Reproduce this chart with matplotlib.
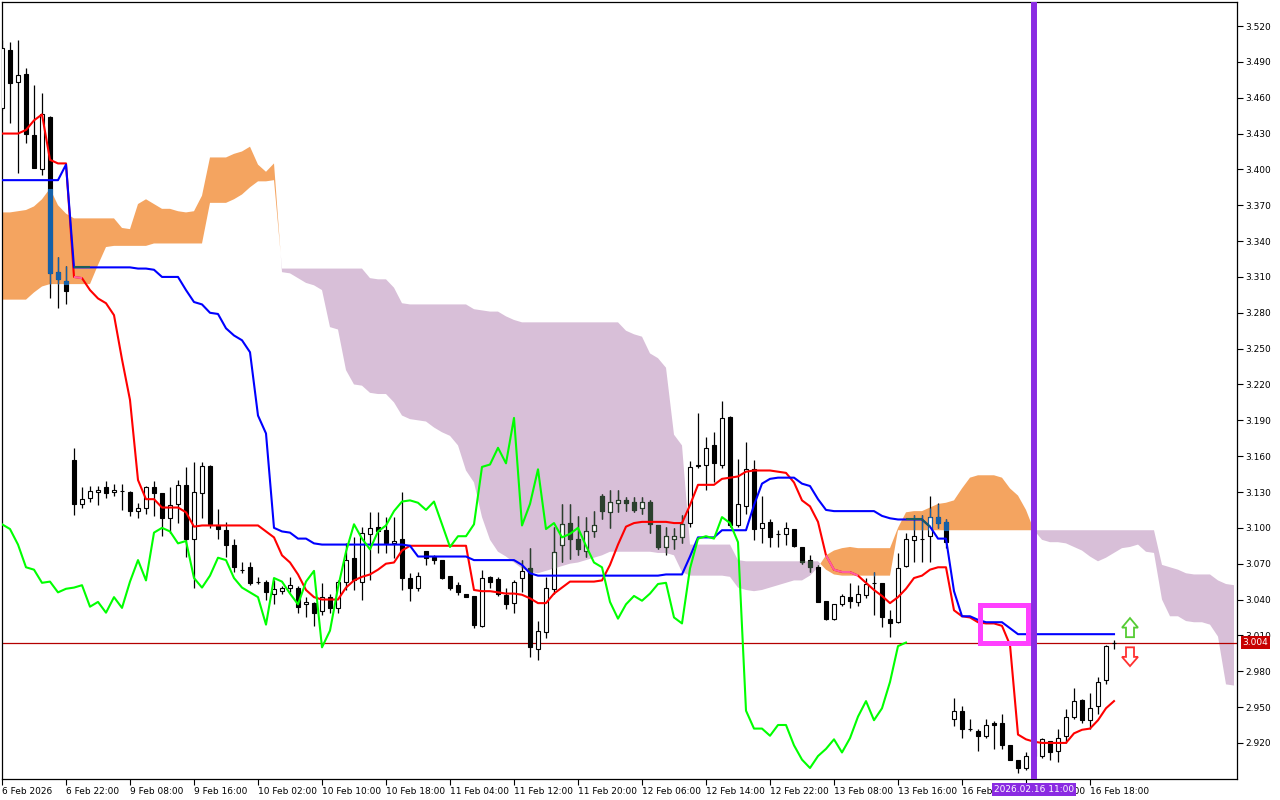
import matplotlib
matplotlib.use("Agg")
import matplotlib.pyplot as plt
from matplotlib.patches import Rectangle, Polygon
import numpy as np

# hourly candles, one bar per x step (6 Feb 2026 .. 16 Feb 2026)
opens = [3.451, 3.500, 3.473, 3.480, 3.429, 3.400, 3.444, 3.314, 3.307, 3.157,
         3.120, 3.125, 3.130, 3.134, 3.130, 3.131, 3.130, 3.114, 3.117, 3.134,
         3.129, 3.108, 3.120, 3.136, 3.091, 3.129, 3.152, 3.102, 3.098, 3.086,
         3.065, 3.067, 3.055, 3.055, 3.045, 3.047, 3.050, 3.050, 3.036, 3.037,
         3.030, 3.042, 3.033, 3.055, 3.075, 3.055, 3.095, 3.101, 3.098, 3.087,
         3.091, 3.058, 3.050, 3.081, 3.076, 3.073, 3.060, 3.052, 3.045, 3.043,
         3.018, 3.059, 3.057, 3.044, 3.037, 3.058, 3.066, 2.999, 3.013, 3.049,
         3.086, 3.104, 3.091, 3.081, 3.097, 3.127, 3.113, 3.121, 3.123, 3.122,
         3.117, 3.122, 3.102, 3.084, 3.091, 3.092, 3.104, 3.152, 3.153, 3.169,
         3.153, 3.193, 3.102, 3.118, 3.149, 3.100, 3.105, 3.095, 3.095, 3.099,
         3.084, 3.073, 3.067, 3.039, 3.024, 3.036, 3.042, 3.038, 3.044, 3.054,
         3.054, 3.024, 3.021, 3.068, 3.090, 3.091, 3.093, 3.109, 3.105, 2.940,
         2.947, 2.932, 2.930, 2.926, 2.937, 2.937, 2.918, 2.906, 2.899, 2.909,
         2.909, 2.922, 2.913, 2.926, 2.942, 2.956, 2.939, 2.951, 2.973, 3.004]
highs = [3.508, 3.507, 3.508, 3.485, 3.471, 3.464, 3.445, 3.327, 3.319, 3.167,
         3.134, 3.135, 3.135, 3.139, 3.137, 3.137, 3.131, 3.121, 3.135, 3.139,
         3.129, 3.134, 3.140, 3.151, 3.155, 3.155, 3.153, 3.116, 3.105, 3.091,
         3.071, 3.071, 3.059, 3.056, 3.056, 3.051, 3.059, 3.051, 3.042, 3.038,
         3.054, 3.045, 3.056, 3.087, 3.092, 3.101, 3.113, 3.113, 3.109, 3.109,
         3.130, 3.062, 3.063, 3.081, 3.077, 3.073, 3.060, 3.055, 3.045, 3.043,
         3.065, 3.060, 3.059, 3.050, 3.056, 3.073, 3.083, 3.022, 3.059, 3.101,
         3.120, 3.120, 3.110, 3.109, 3.114, 3.128, 3.132, 3.132, 3.126, 3.126,
         3.126, 3.123, 3.102, 3.101, 3.100, 3.111, 3.156, 3.196, 3.176, 3.180,
         3.206, 3.194, 3.158, 3.172, 3.157, 3.127, 3.107, 3.098, 3.105, 3.099,
         3.084, 3.077, 3.069, 3.039, 3.036, 3.045, 3.054, 3.052, 3.058, 3.063,
         3.054, 3.031, 3.079, 3.096, 3.111, 3.111, 3.127, 3.121, 3.107, 2.958,
         2.951, 2.940, 2.932, 2.940, 2.938, 2.944, 2.918, 2.906, 2.912, 2.925,
         2.924, 2.922, 2.932, 2.948, 2.966, 2.957, 2.962, 2.975, 3.002, 3.006]
lows = [3.450, 3.439, 3.397, 3.422, 3.401, 3.395, 3.292, 3.284, 3.287, 3.111,
        3.117, 3.122, 3.119, 3.125, 3.127, 3.115, 3.110, 3.108, 3.112, 3.110,
        3.093, 3.096, 3.104, 3.076, 3.050, 3.108, 3.100, 3.091, 3.076, 3.063,
        3.062, 3.052, 3.053, 3.040, 3.036, 3.045, 3.046, 3.029, 3.025, 3.018,
        3.027, 3.029, 3.029, 3.048, 3.048, 3.040, 3.056, 3.079, 3.079, 3.075,
        3.048, 3.039, 3.047, 3.069, 3.070, 3.057, 3.048, 3.044, 3.042, 3.016,
        3.017, 3.050, 3.043, 3.032, 3.029, 3.046, 2.992, 2.989, 3.008, 3.045,
        3.071, 3.074, 3.077, 3.076, 3.092, 3.107, 3.100, 3.113, 3.114, 3.113,
        3.112, 3.096, 3.082, 3.077, 3.082, 3.087, 3.101, 3.150, 3.132, 3.138,
        3.150, 3.101, 3.101, 3.112, 3.090, 3.087, 3.084, 3.084, 3.086, 3.084,
        3.070, 3.063, 3.038, 3.023, 3.023, 3.035, 3.033, 3.035, 3.041, 3.027,
        3.017, 3.009, 3.020, 3.067, 3.071, 3.071, 3.071, 3.100, 3.083, 2.934,
        2.924, 2.930, 2.913, 2.924, 2.915, 2.915, 2.906, 2.895, 2.897, 2.905,
        2.907, 2.906, 2.904, 2.920, 2.940, 2.937, 2.932, 2.944, 2.969, 2.999]
closes = [3.502, 3.472, 3.479, 3.430, 3.401, 3.446, 3.313, 3.308, 3.298, 3.120,
          3.124, 3.131, 3.132, 3.129, 3.132, 3.131, 3.114, 3.117, 3.134, 3.129,
          3.108, 3.119, 3.136, 3.091, 3.130, 3.152, 3.103, 3.099, 3.086, 3.067,
          3.065, 3.054, 3.055, 3.046, 3.049, 3.050, 3.052, 3.034, 3.038, 3.029,
          3.042, 3.033, 3.055, 3.073, 3.056, 3.096, 3.100, 3.097, 3.087, 3.089,
          3.058, 3.050, 3.060, 3.075, 3.073, 3.058, 3.050, 3.046, 3.042, 3.019,
          3.058, 3.055, 3.045, 3.036, 3.055, 3.064, 3.000, 3.014, 3.050, 3.080,
          3.103, 3.091, 3.082, 3.097, 3.102, 3.114, 3.122, 3.123, 3.121, 3.115,
          3.122, 3.103, 3.084, 3.093, 3.093, 3.103, 3.151, 3.153, 3.167, 3.154,
          3.192, 3.102, 3.120, 3.149, 3.099, 3.104, 3.092, 3.095, 3.100, 3.085,
          3.071, 3.067, 3.038, 3.024, 3.036, 3.043, 3.039, 3.045, 3.053, 3.054,
          3.025, 3.020, 3.066, 3.091, 3.093, 3.091, 3.109, 3.104, 3.088, 2.947,
          2.932, 2.932, 2.926, 2.935, 2.935, 2.918, 2.906, 2.899, 2.909, 2.915,
          2.923, 2.912, 2.924, 2.942, 2.955, 2.939, 2.949, 2.971, 3.001, 3.004]

# ichimoku lines
tenkan = [3.430, 3.430, 3.430, 3.433, 3.441, 3.446, 3.408, 3.405, 3.405, 3.310,
          3.309, 3.299, 3.292, 3.288, 3.278, 3.241, 3.207, 3.140, 3.124, 3.124,
          3.117, 3.117, 3.117, 3.113, 3.101, 3.102, 3.102, 3.102, 3.102, 3.102,
          3.102, 3.102, 3.102, 3.097, 3.092, 3.077, 3.071, 3.061, 3.048, 3.042,
          3.040, 3.040, 3.040, 3.050, 3.056, 3.059, 3.061, 3.065, 3.070, 3.071,
          3.081, 3.085, 3.085, 3.085, 3.085, 3.085, 3.085, 3.085, 3.085, 3.048,
          3.047, 3.047, 3.046, 3.045, 3.045, 3.044, 3.041, 3.037, 3.037, 3.045,
          3.050, 3.055, 3.055, 3.055, 3.055, 3.056, 3.069, 3.086, 3.101, 3.104,
          3.105, 3.105, 3.105, 3.105, 3.104, 3.104, 3.119, 3.136, 3.136, 3.136,
          3.141, 3.142, 3.143, 3.147, 3.148, 3.148, 3.148, 3.147, 3.146, 3.138,
          3.123, 3.118, 3.105, 3.077, 3.065, 3.063, 3.063, 3.060, 3.054, 3.048,
          3.043, 3.037, 3.042, 3.049, 3.058, 3.060, 3.065, 3.067, 3.067, 3.031,
          3.026, 3.025, 3.021, 3.020, 3.020, 3.018, 3.002, 2.927, 2.923, 2.921,
          2.920, 2.920, 2.920, 2.920, 2.928, 2.931, 2.932, 2.939, 2.949, 2.955]
kijun = [3.391, 3.391, 3.391, 3.391, 3.391, 3.391, 3.391, 3.391, 3.404, 3.318,
         3.318, 3.318, 3.318, 3.318, 3.318, 3.318, 3.318, 3.317, 3.317, 3.316,
         3.310, 3.310, 3.310, 3.299, 3.289, 3.287, 3.280, 3.279, 3.267, 3.261,
         3.257, 3.247, 3.194, 3.179, 3.100, 3.097, 3.096, 3.091, 3.091, 3.087,
         3.086, 3.086, 3.086, 3.086, 3.086, 3.086, 3.086, 3.086, 3.086, 3.086,
         3.086, 3.085, 3.076, 3.076, 3.076, 3.076, 3.076, 3.076, 3.076, 3.073,
         3.073, 3.073, 3.073, 3.073, 3.073, 3.069, 3.062, 3.060, 3.060, 3.060,
         3.060, 3.060, 3.060, 3.060, 3.060, 3.060, 3.060, 3.060, 3.060, 3.060,
         3.060, 3.060, 3.060, 3.061, 3.061, 3.061, 3.076, 3.092, 3.092, 3.092,
         3.098, 3.098, 3.098, 3.098, 3.119, 3.137, 3.141, 3.142, 3.142, 3.142,
         3.137, 3.135, 3.124, 3.115, 3.114, 3.114, 3.114, 3.114, 3.114, 3.114,
         3.110, 3.108, 3.107, 3.107, 3.107, 3.107, 3.101, 3.091, 3.091, 3.047,
         3.026, 3.026, 3.023, 3.021, 3.021, 3.021, 3.016, 3.011, 3.011, 3.011,
         3.011, 3.011, 3.011, 3.011, 3.011, 3.011, 3.011, 3.011, 3.011, 3.011]
span_a = [3.364, 3.364, 3.365, 3.366, 3.369, 3.375, 3.384, 3.370, 3.363, 3.359,
          3.359, 3.359, 3.359, 3.359, 3.359, 3.351, 3.350, 3.371, 3.375, 3.371,
          3.367, 3.367, 3.365, 3.364, 3.365, 3.378, 3.410, 3.410, 3.410, 3.413,
          3.415, 3.419, 3.404, 3.398, 3.405, 3.314, 3.313, 3.309, 3.305, 3.303,
          3.299, 3.268, 3.266, 3.232, 3.220, 3.219, 3.213, 3.212, 3.212, 3.205,
          3.194, 3.191, 3.190, 3.189, 3.184, 3.180, 3.177, 3.169, 3.148, 3.138,
          3.109, 3.090, 3.080, 3.076, 3.071, 3.066, 3.063, 3.062, 3.064, 3.066,
          3.068, 3.070, 3.071, 3.073, 3.075, 3.077, 3.080, 3.080, 3.080, 3.080,
          3.080, 3.080, 3.079, 3.079, 3.077, 3.063, 3.060, 3.060, 3.060, 3.060,
          3.060, 3.059, 3.050, 3.048, 3.047, 3.048, 3.050, 3.052, 3.054, 3.056,
          3.056, 3.060, 3.067, 3.077, 3.081, 3.083, 3.084, 3.083, 3.083, 3.083,
          3.083, 3.083, 3.100, 3.113, 3.114, 3.114, 3.117, 3.120, 3.121, 3.123,
          3.133, 3.142, 3.144, 3.144, 3.144, 3.142, 3.133, 3.127, 3.115, 3.098,
          3.090, 3.088, 3.088, 3.087, 3.084, 3.081, 3.076, 3.072, 3.075, 3.079,
          3.083, 3.084, 3.086, 3.080, 3.079, 3.040, 3.026, 3.026, 3.022, 3.021,
          3.021, 3.019, 3.009, 2.969, 2.968]
span_b = [3.291, 3.291, 3.291, 3.291, 3.297, 3.302, 3.304, 3.304, 3.304, 3.304,
          3.304, 3.304, 3.320, 3.335, 3.336, 3.336, 3.336, 3.336, 3.336, 3.338,
          3.338, 3.338, 3.338, 3.338, 3.338, 3.338, 3.372, 3.372, 3.372, 3.375,
          3.379, 3.385, 3.390, 3.390, 3.391, 3.317, 3.317, 3.317, 3.317, 3.317,
          3.317, 3.317, 3.317, 3.317, 3.317, 3.317, 3.309, 3.308, 3.308, 3.301,
          3.288, 3.287, 3.287, 3.287, 3.287, 3.287, 3.287, 3.287, 3.287, 3.283,
          3.282, 3.281, 3.281, 3.277, 3.274, 3.272, 3.272, 3.272, 3.272, 3.272,
          3.272, 3.272, 3.272, 3.272, 3.272, 3.272, 3.272, 3.272, 3.265, 3.262,
          3.260, 3.246, 3.242, 3.234, 3.178, 3.169, 3.086, 3.086, 3.086, 3.086,
          3.086, 3.086, 3.073, 3.072, 3.072, 3.072, 3.072, 3.072, 3.072, 3.072,
          3.072, 3.072, 3.072, 3.065, 3.061, 3.060, 3.060, 3.060, 3.060, 3.060,
          3.060, 3.060, 3.098, 3.098, 3.098, 3.098, 3.098, 3.098, 3.098, 3.098,
          3.098, 3.098, 3.098, 3.098, 3.098, 3.098, 3.098, 3.098, 3.098, 3.098,
          3.098, 3.098, 3.098, 3.098, 3.098, 3.098, 3.098, 3.098, 3.098, 3.098,
          3.098, 3.098, 3.098, 3.098, 3.098, 3.069, 3.067, 3.065, 3.062, 3.061,
          3.061, 3.061, 3.056, 3.053, 3.052]

chikou_shift = 26
tick_pos = [0, 8, 16, 24, 32, 40, 48, 56, 64, 72, 80, 88, 96, 104, 112, 120, 128, 136]
tick_labels = ["6 Feb 2026", "6 Feb 22:00", "9 Feb 08:00", "9 Feb 16:00", "10 Feb 02:00",
               "10 Feb 10:00", "10 Feb 18:00", "11 Feb 04:00", "11 Feb 12:00", "11 Feb 20:00",
               "12 Feb 06:00", "12 Feb 14:00", "12 Feb 22:00", "13 Feb 08:00", "13 Feb 16:00",
               "16 Feb 02:00", "16 Feb 10:00", "16 Feb 18:00"]
price_ticks = [2.920, 2.950, 2.980, 3.010, 3.040, 3.070, 3.100, 3.130, 3.160, 3.190, 3.220,
               3.250, 3.280, 3.310, 3.340, 3.370, 3.400, 3.430, 3.460, 3.490, 3.520]
last_price = 3.004
marker_bar = 129
marker_label = "2026.02.16 11:00"

plt.rcParams['font.family'] = ['DejaVu Sans']
fig = plt.figure(figsize=(12.8, 8), dpi=100, facecolor='white')
ax = fig.add_axes([2 / 1280, 21 / 800, 1235 / 1280, 777 / 800])

o = np.array(opens); h = np.array(highs); l = np.array(lows); c = np.array(closes)
sa = np.array(span_a); sb = np.array(span_b)
n = len(c)
idx = np.arange(n)
cx = np.arange(len(sa))

# cloud
ax.fill_between(cx, sa, sb, where=sa >= sb, interpolate=True, color='#F4A460', lw=0, zorder=1)
ax.fill_between(cx, sa, sb, where=sa < sb, interpolate=True, color='#D8BFD8', lw=0, zorder=1)

# current price line
ax.axhline(last_price, color='#B40000', lw=0.9, zorder=2)

# candles
up = c >= o
blo = np.minimum(o, c); bhi = np.maximum(o, c)
w = 0.62
ax.vlines(idx, l, h, color='black', lw=0.9, zorder=3)
ax.bar(idx[up], (bhi - blo)[up], bottom=blo[up], width=w, facecolor='white',
       edgecolor='black', linewidth=0.8, zorder=4)
ax.bar(idx[~up], (bhi - blo)[~up], bottom=blo[~up], width=w, facecolor='black',
       edgecolor='black', linewidth=0.8, zorder=4)

# candles look different where they sit inside the cloud
for i in range(n):
    lo, hi = min(sa[i], sb[i]), max(sa[i], sb[i])
    tint = '#1560A8' if sa[i] >= sb[i] else '#2B402E'
    wl, wh = max(l[i], lo), min(h[i], hi)
    if wl < wh:
        ax.vlines(i, wl, wh, color=tint, lw=0.9, zorder=3.1)
    bl, bh = max(blo[i], lo), min(bhi[i], hi)
    if bl < bh:
        if up[i]:
            ax.vlines([i - w / 2, i + w / 2], bl, bh, color=tint, lw=0.8, zorder=4.1)
            for yy in (blo[i], bhi[i]):
                if lo <= yy <= hi:
                    ax.hlines(yy, i - w / 2, i + w / 2, color=tint, lw=0.8, zorder=4.1)
        else:
            ax.bar(i, bh - bl, bottom=bl, width=w, color=tint, edgecolor=tint,
                   linewidth=0.8, zorder=4.1)

# lines
ax.plot(idx, tenkan, color='#FF0000', lw=1.5, zorder=5)
ax.plot(idx, kijun, color='#0000FF', lw=1.5, zorder=5)
ax.plot(idx[:n - chikou_shift], c[chikou_shift:], color='#00FF00', lw=1.5, zorder=5)

# segments of tenkan / kijun that run through the orange cloud change colour
def in_orange(i, v):
    return sa[i] >= sb[i] and sb[i] <= v <= sa[i]

for vals, tint in ((tenkan, '#FF5FA0'), (kijun, '#1B5E5E')):
    for i in range(n - 1):
        if in_orange(i, vals[i]) and in_orange(i + 1, vals[i + 1]):
            ax.plot([i, i + 1], [vals[i], vals[i + 1]], color=tint, lw=1.5,
                    zorder=5.1, solid_capstyle='butt')

# vertical marker
ax.axvline(marker_bar, color='#8A2BE2', lw=4.3, zorder=6)

# highlight box
ax.add_patch(Rectangle((122.2, 3.004), 6.0, 0.0318, fill=False, ec='#FF40FF', lw=3.6, zorder=7))

# up / down arrows
def arrow(xc, tip, neck, tail, color):
    pts = [(xc, tip), (xc + 1.0, neck), (xc + 0.5, neck), (xc + 0.5, tail),
           (xc - 0.5, tail), (xc - 0.5, neck), (xc - 1.0, neck)]
    ax.add_patch(Polygon(pts, closed=True, fc='white', ec=color, lw=1.3, zorder=7))

arrow(141.0, 3.0245, 3.0165, 3.0085, '#55CC33')
arrow(141.0, 2.9843, 2.9920, 3.0000, '#FF3030')

# axes
ax.set_xlim(0, 154.375)
ax.set_ylim(2.8898, 3.5401)
ax.yaxis.tick_right()
ax.set_yticks(price_ticks)
ax.set_yticklabels([f"{v:.3f}" for v in price_ticks])
ax.set_xticks(tick_pos)
ax.set_xticklabels(tick_labels)
for lbl in ax.get_xticklabels():
    lbl.set_horizontalalignment('left')
ax.tick_params(axis='both', direction='out', length=4, width=0.8, labelsize=6.5, colors='black')
ax.tick_params(axis='x', pad=2)
ax.tick_params(axis='y', pad=2)
for s in ax.spines.values():
    s.set_color('black')
    s.set_linewidth(0.9)

# price label on the right axis
ax.annotate(f"{last_price:.3f}", xy=(1, last_price), xycoords=('axes fraction', 'data'),
            xytext=(4, 0), textcoords='offset points', ha='left', va='center',
            fontsize=6.5, color='white', annotation_clip=False, zorder=10,
            bbox=dict(boxstyle='square,pad=0.2', fc='#C80000', ec='none'))

# time label for the vertical marker
ax.annotate(marker_label, xy=(marker_bar, 0), xycoords=('data', 'axes fraction'),
            xytext=(0, -7.5), textcoords='offset points', ha='center', va='center',
            fontsize=6.5, color='white', annotation_clip=False, zorder=10,
            bbox=dict(boxstyle='square,pad=0.25', fc='#8A2BE2', ec='none'))

fig.savefig("out.png", dpi=100, facecolor='white')
